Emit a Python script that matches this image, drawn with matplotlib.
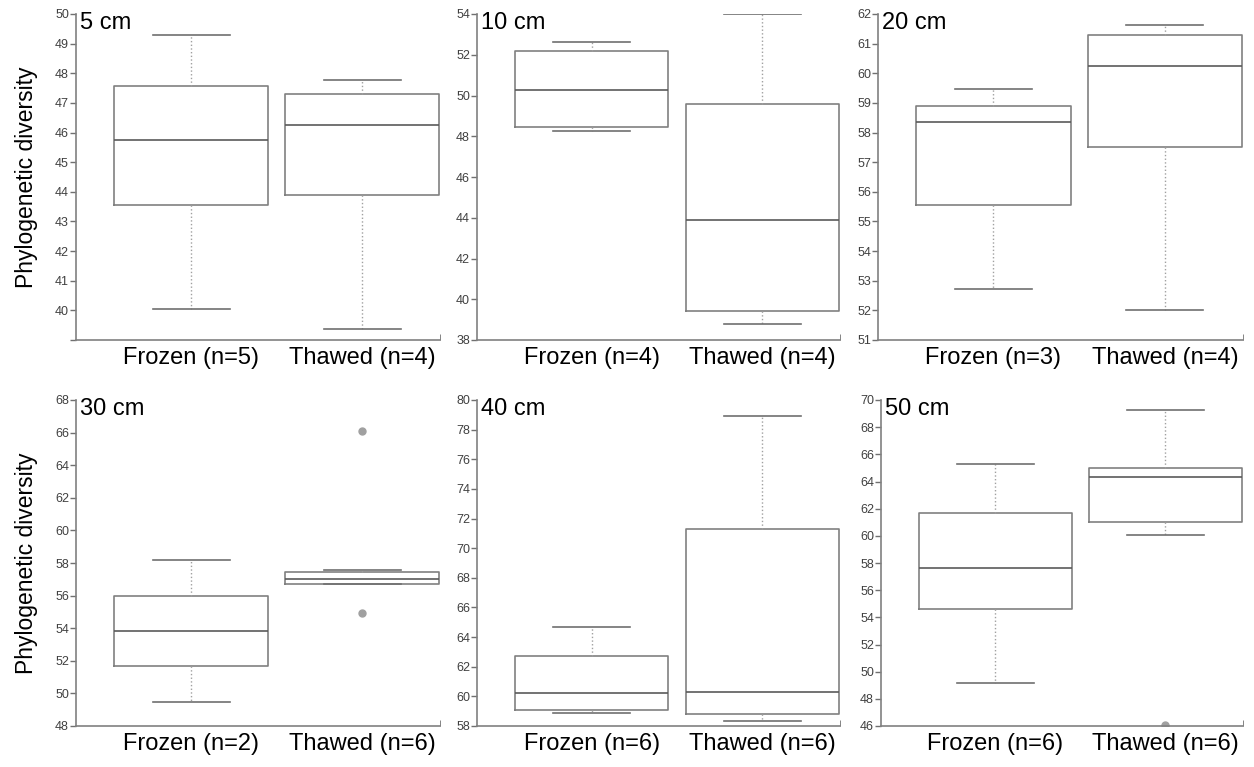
import numpy as np
import matplotlib.pyplot as plt

plt.rcParams['font.family'] = ['Liberation Sans', 'DejaVu Sans']

depths = ['5 cm', '10 cm', '20 cm', '30 cm', '40 cm', '50 cm']
groups = ['Frozen', 'Thawed']
n_frozen = [5, 4, 3, 2, 6, 6]
n_thawed = [4, 4, 4, 6, 6, 6]

# box summaries per depth: [low whisker, q1, median, q3, high whisker]
frozen_stats = [
    [40.03, 43.54, 45.76, 47.57, 49.28],
    [48.25, 48.47, 50.28, 52.20, 52.64],
    [52.72, 55.55, 58.37, 58.89, 59.46],
    [49.50, 51.67, 53.84, 55.99, 58.18],
    [58.85, 59.05, 60.25, 62.75, 64.69],
    [49.20, 54.65, 57.60, 61.67, 65.28],
]
thawed_stats = [
    [39.38, 43.90, 46.27, 47.30, 47.77],
    [38.77, 39.44, 43.90, 49.60, 54.00],
    [52.01, 57.52, 60.26, 61.29, 61.62],
    [56.72, 56.72, 56.99, 57.46, 57.56],
    [58.33, 58.78, 60.32, 71.32, 78.92],
    [60.05, 61.03, 64.30, 64.97, 69.24],
]
frozen_fliers = [[], [], [], [], [], []]
thawed_fliers = [[], [], [], [66.10, 54.92], [], [46.10]]

ylims = [(39, 50), (38, 54), (51, 62), (48, 68), (58, 80), (46, 70)]
ysteps = [1, 2, 1, 2, 2, 2]

fig = plt.figure(figsize=(12.54, 7.67), dpi=100)
W, H = 1254, 767
# axes rectangles in pixels: left, top, right, bottom
rects = [
    (76, 14, 440, 340), (477, 14, 840, 340), (878, 14, 1243, 340),
    (76, 400, 440, 726), (477, 400, 840, 726), (881, 400, 1243, 726),
]

box_col = '#808080'
med_col = '#5a5a5a'

for i, (l, t, r, b) in enumerate(rects):
    ax = fig.add_axes([l / W, 1 - b / H, (r - l) / W, (b - t) / H])
    stats = []
    for g, s, fl in ((groups[0], frozen_stats[i], frozen_fliers[i]),
                     (groups[1], thawed_stats[i], thawed_fliers[i])):
        stats.append(dict(whislo=s[0], q1=s[1], med=s[2], q3=s[3], whishi=s[4],
                          fliers=fl, label=g))
    ax.bxp(stats, positions=[1, 2], widths=0.9, showfliers=True,
           boxprops=dict(color=box_col, linewidth=1.2),
           medianprops=dict(color=med_col, linewidth=1.2),
           whiskerprops=dict(color='#a0a0a0', linewidth=1.0, linestyle=':'),
           capprops=dict(color='#707070', linewidth=1.2),
           capwidths=0.45,
           flierprops=dict(marker='o', markerfacecolor='#a0a0a0',
                           markeredgecolor='#a0a0a0', markersize=5))
    ax.set_xlim(0.327, 2.456)
    y0, y1 = ylims[i]
    ax.set_ylim(y0, y1)
    ticks = np.arange(y0, y1 + 0.01, ysteps[i])
    ax.set_yticks(ticks)
    if i == 0:
        ax.set_yticklabels([''] + [f'{v:g}' for v in ticks[1:]])
    ax.set_xticks([1, 2])
    ax.set_xticklabels([f'Frozen (n={n_frozen[i]})', f'Thawed (n={n_thawed[i]})'],
                       fontsize=17)
    ax.tick_params(axis='x', length=0, pad=5)
    ax.tick_params(axis='y', length=4, width=1, colors='#707070',
                   labelcolor='#404040', labelsize=9, pad=1)
    ax.set_xticks([2.456], minor=True)
    ax.tick_params(axis='x', which='minor', direction='in', length=4,
                   color='#707070')
    for side in ('top', 'right'):
        ax.spines[side].set_visible(False)
    for side in ('left', 'bottom'):
        ax.spines[side].set_color('#808080')
        ax.spines[side].set_linewidth(1.2)
    ax.text(0.012, 1.005, depths[i], transform=ax.transAxes, fontsize=17,
            va='top', ha='left')
    if i % 3 == 0:
        ax.set_ylabel('Phylogenetic diversity', fontsize=16.5, labelpad=12)

fig.savefig('out.png', dpi=100)
